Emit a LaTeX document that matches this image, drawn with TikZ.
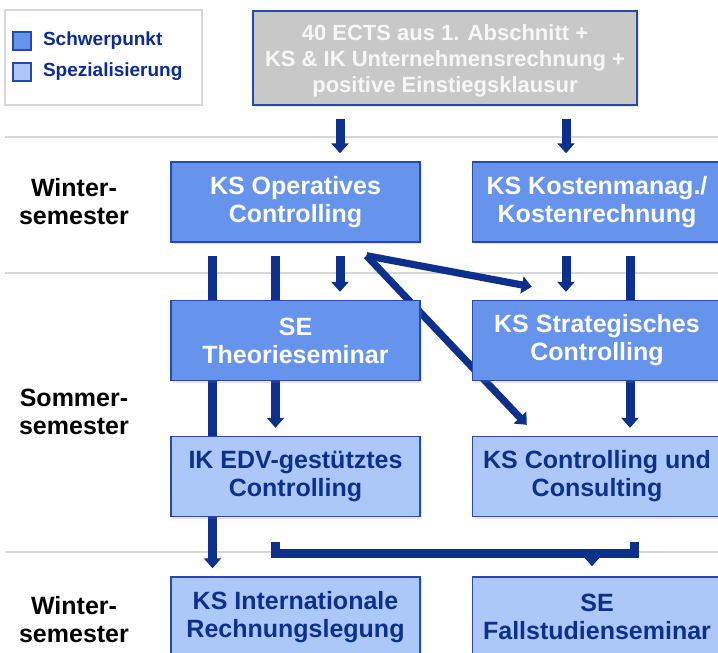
\documentclass[tikz,border=0pt]{standalone}
\usepackage{fontspec}
\setmainfont{Liberation Sans}
\usetikzlibrary{arrows.meta,calc,shadows}

\definecolor{darkblue}{RGB}{12,48,140}
\definecolor{mainblue}{RGB}{102,148,236}
\definecolor{lightblue}{RGB}{172,200,248}
\definecolor{edgeblue}{RGB}{40,72,175}
\definecolor{sepgray}{RGB}{215,215,215}
\definecolor{boxgray}{RGB}{200,200,200}

\pgfdeclarelayer{background}
\pgfsetlayers{background,main}

\begin{document}
\begin{tikzpicture}[
        x=0.5pt, y=-0.5pt,
        course/.style={rectangle, draw=edgeblue, line width=0.7pt, minimum width=124.5pt, minimum height=40pt, align=center, font=\fontsize{12.5}{14}\selectfont\bfseries, drop shadow={shadow xshift=1.2pt, shadow yshift=-1.2pt, opacity=0.2}},
        focus/.style={course, fill=mainblue, text=white},
        special/.style={course, fill=lightblue, text=darkblue},
        entry/.style={course, fill=boxgray, text=white!94!gray, minimum width=192pt, minimum height=47pt, font=\fontsize{11}{13}\selectfont\bfseries},
        term/.style={align=center, font=\fontsize{12.5}{14}\selectfont\bfseries},
        legsq/.style={rectangle, draw=edgeblue, line width=0.6pt, minimum size=9pt, inner sep=0pt},
        legtext/.style={anchor=west, text=darkblue!90!blue, font=\fontsize{9.5}{11}\selectfont\bfseries},
        sep/.style={sepgray, line width=0.8pt},
        arr/.style={darkblue, line width=4.5pt, -{Triangle[width=8.5pt,length=5pt]}, shorten <=6.5pt, shorten >=4pt},
        diag/.style={arr, line width=3.6pt, shorten <=0pt, shorten >=0pt},
        bracket/.style={darkblue, line width=4.5pt, line join=miter}
    ]
        \useasboundingbox (0,0) rectangle (718,653);

        % Legend
        \node[draw=sepgray, line width=0.8pt, minimum width=98.5pt, minimum height=47.5pt] (legend) at (103.5,57.5) {};
        \node[legsq, fill=mainblue] (sqfocus) at (22,41) {};
        \node[legsq, fill=lightblue] (sqspecial) at (22,72) {};
        \node[legtext] (txtfocus) at (36,41) {Schwerpunkt};
        \node[legtext] (txtspecial) at (36,72) {Spezialisierung};

        % Entry requirement
        \node[entry] (prereq) at (445,58) {};
        \node[align=center, text=white!94!gray, font=\fontsize{11}{13}\selectfont\bfseries] (prereqtext) at (445,61) {40 ECTS aus 1. Abschnitt +\\KS \& IK Unternehmensrechnung +\\positive Einstiegsklausur};

        % Terms
        \node[term] (ws1) at (74,202) {Winter-\\semester};
        \node[term] (ss) at (74,412) {Sommer-\\semester};
        \node[term] (ws2) at (74,620) {Winter-\\semester};

        % Courses
        \node[focus] (opctrl) at (295.5,202) {KS Operatives\\Controlling};
        \node[focus] (kostmgmt) at (597,202) {KS Kostenmanag./\\Kostenrechnung};
        \node[focus] (theosem) at (295.5,340.5) {SE\\Theorieseminar};
        \node[focus] (stratctrl) at (597,340.5) {KS Strategisches\\Controlling};
        \node[special] (edvctrl) at (295.5,476.5) {IK EDV-gestütztes\\Controlling};
        \node[special] (consult) at (597,476.5) {KS Controlling und\\Consulting};
        \node[special] (intrl) at (295.5,617) {KS Internationale\\Rechnungslegung};
        \node[special] (fallsem) at (597,617) {SE\\Fallstudienseminar};

        \begin{pgfonlayer}{background}
            % Term separators
            \draw[sep] (5,137) -- (718,137);
            \draw[sep] (5,273) -- (718,273);
            \draw[sep] (5,552) -- (718,552);

            % Connections
            \draw[arr] ($(prereq.south)+(-105,0)$) -- ($(opctrl.north)+(44.5,0)$);
            \draw[arr] ($(prereq.south)+(121,0)$) -- ($(kostmgmt.north)+(-31,0)$);
            \draw[arr] ($(opctrl.south)+(-83,0)$) -- ($(intrl.north)+(-83,0)$);
            \draw[arr] ($(opctrl.south)+(-20,0)$) -- ($(edvctrl.north)+(-20,0)$);
            \draw[arr] ($(opctrl.south)+(44.5,0)$) -- ($(theosem.north)+(44.5,0)$);
            \coordinate (fork) at ($(opctrl.south)+(71,13)$);
            \draw[diag] (fork) -- ($(stratctrl.north west)+(60,-13)$);
            \draw[diag] (fork) -- ($(consult.north west)+(55,-11)$);
            \draw[arr] ($(kostmgmt.south)+(-31,0)$) -- ($(stratctrl.north)+(-31,0)$);
            \draw[arr] ($(kostmgmt.south)+(33,0)$) -- ($(consult.north)+(33,0)$);

            % Grouping bracket
            \draw[bracket] ($(edvctrl.south)+(-20.5,25)$) -- ++(0,11) -| ($(consult.south)+(37,25)$);
            \draw[arr, shorten <=0pt, shorten >=0pt] ($(fallsem.north)+(-5,-24)$) -- ($(fallsem.north)+(-5,-10)$);
        \end{pgfonlayer}
    \end{tikzpicture}
\end{document}
